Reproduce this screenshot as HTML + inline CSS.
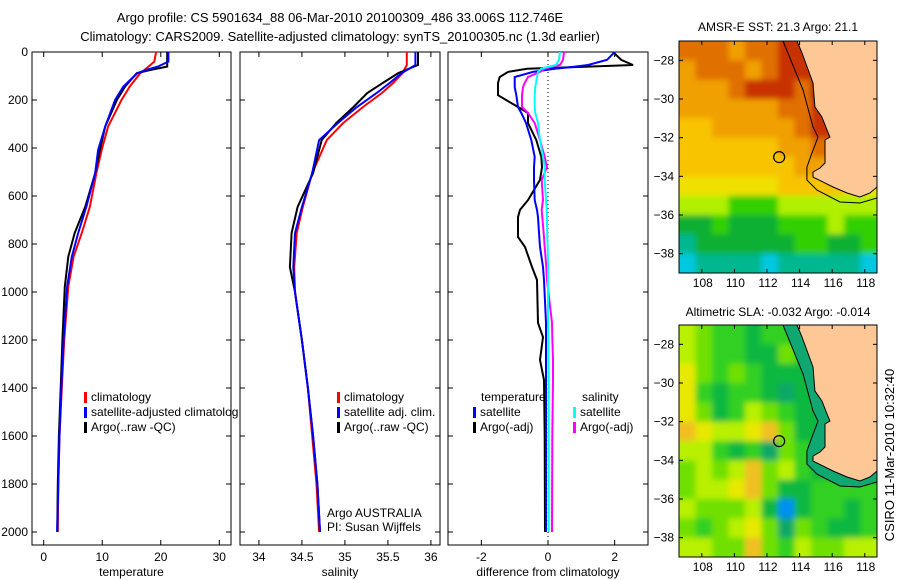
<!DOCTYPE html>
<html><head><meta charset="utf-8">
<style>
html,body{margin:0;padding:0;background:#fff;}
svg{display:block;font-family:"Liberation Sans",sans-serif;}
text{fill:#000;}
</style></head>
<body>
<svg id="fig" width="900" height="580" viewBox="0 0 900 580" xmlns="http://www.w3.org/2000/svg">
<defs>
<clipPath id="clipP1"><rect x="32" y="52" width="199" height="493"/></clipPath>
<clipPath id="clipP2"><rect x="240" y="52" width="200" height="493"/></clipPath>
<clipPath id="clipP3"><rect x="448" y="52" width="200" height="493"/></clipPath>
<clipPath id="clipM1"><rect x="679" y="41" width="198" height="232"/></clipPath>
<clipPath id="clipM2"><rect x="679" y="325" width="198" height="232"/></clipPath>
<clipPath id="clipLeg"><rect x="0" y="0" width="238" height="580"/></clipPath>
<filter id="soft" filterUnits="userSpaceOnUse" x="660" y="20" width="240" height="560"><feGaussianBlur stdDeviation="3"/></filter>
</defs>
<text x="340" y="22" font-size="13" text-anchor="middle">Argo profile: CS 5901634_88 06-Mar-2010 20100309_486 33.006S 112.746E</text>
<text x="340" y="41" font-size="13" text-anchor="middle">Climatology: CARS2009. Satellite-adjusted climatology: synTS_20100305.nc (1.3d earlier)</text>
<text x="778" y="31" font-size="12" text-anchor="middle">AMSR-E SST: 21.3 Argo: 21.1</text>
<text x="778" y="316" font-size="12" text-anchor="middle">Altimetric SLA: -0.032 Argo: -0.014</text>
<text x="0" y="0" font-size="13" text-anchor="middle" transform="translate(894,455) rotate(-90)">CSIRO 11-Mar-2010 10:32:40</text>
<g id="g"></g>
</svg>
<script>
// ---- profile data ----
const tDepth = [0,40,61,75,88,144,200,311,408,504,644,754,853,978,1200,1400,1600,1800,2000];
const tArgo  = [21.1,21.1,21.1,18.2,15.9,13.9,12.5,10.5,9.6,8.8,7.1,5.3,4.2,3.6,3.2,2.9,2.6,2.4,2.3];
const tSat   = [21.3,21.3,19.5,17.5,16.0,13.6,12.2,10.5,9.3,8.8,7.3,5.9,4.8,4.0,3.4,3.0,2.7,2.5,2.3];
const tClim  = [19.2,18.9,17.9,17.2,16.5,14.7,13.3,11.0,9.9,9.0,7.9,6.5,5.1,4.2,3.5,3.1,2.7,2.5,2.4];
const sDepth = [0,54,88,129,171,229,296,367,504,646,754,896,1000,1200,1400,1600,1800,2000];
const sArgo  = [35.85,35.85,35.62,35.44,35.26,35.10,34.90,34.73,34.63,34.45,34.38,34.36,34.42,34.50,34.57,34.63,34.68,34.71];
const sSat   = [35.82,35.82,35.66,35.52,35.37,35.14,34.92,34.70,34.62,34.50,34.42,34.40,34.42,34.50,34.57,34.63,34.68,34.71];
const sClim  = [35.72,35.72,35.67,35.56,35.43,35.21,34.98,34.79,34.62,34.51,34.44,34.41,34.42,34.50,34.57,34.62,34.67,34.70];
const dDepth = [0,33,54,62,70,83,104,129,146,180,229,254,296,367,437,480,533,617,658,688,771,812,896,950,1129,1188,1283,1367,1600,2000];
const dTArgo = [1.95,2.2,2.55,1.0,-0.63,-1.2,-1.45,-1.5,-1.5,-1.5,-0.9,-0.6,-0.6,-0.35,-0.2,-0.18,-0.24,-0.6,-0.84,-0.9,-0.9,-0.69,-0.48,-0.33,-0.3,-0.15,-0.24,-0.12,-0.1,-0.09];
const dTSat  = [2.0,1.77,1.2,0.75,0.2,-0.45,-1.0,-1.0,-1.0,-0.95,-0.9,-0.8,-0.66,-0.5,-0.4,-0.42,-0.42,-0.4,-0.33,-0.3,-0.26,-0.24,-0.15,-0.12,-0.06,-0.06,-0.06,-0.06,-0.06,-0.06];
const dSArgo = [0.48,0.45,0.36,0.1,-0.1,-0.24,-0.6,-0.7,-0.75,-0.78,-0.78,-0.6,-0.4,-0.24,-0.1,-0.03,-0.19,-0.15,-0.19,-0.17,-0.12,-0.1,-0.05,-0.03,0.12,0.13,0.15,0.15,0.13,0.12];
const dSSat  = [0.36,0.33,0.24,0.0,-0.2,-0.3,-0.33,-0.36,-0.38,-0.4,-0.4,-0.38,-0.3,-0.24,-0.15,-0.1,-0.1,-0.06,-0.04,-0.03,-0.02,-0.01,0.0,0.0,0.0,0.01,0.01,0.02,0.02,0.02];
const depthTicks = [0,200,400,600,800,1000,1200,1400,1600,1800,2000];
const tTicks = [0,10,20,30];
const sTicks = [34,34.5,35,35.5,36];
const sTickLabels = ["34","34.5","35","35.5","36"];
const dTicks = [-2,0,2];
// ---- map data ----
const lonTicks = [108,110,112,114,116,118];
const latTicks = [-28,-30,-32,-34,-36,-38];
const sstRows = [
"888788999aaa","788878999aaa","77789998aaaa","7777778899aa","667777789999","666666778888",
"666666677777","555555666655","444333444444","223222333433","122222233223","011110111110"];
const slaRows = [
"654434432222","654433542222","754543332222","743443233222","753465433222","876678533333",
"664342543333","565685643333","566785334444","655563034434","545675254334","665585465566"];
const sstColors = ["#00c8e0","#00b890","#10b030","#30d000","#b0f000","#f0e000","#f8c400","#f0a000","#e07000","#c83000","#a80000"];
const slaColors = ["#0090f0","#00c8d8","#10a868","#10b840","#30d020","#70e000","#b8f000","#e8e800","#f0c020"];
const coastLon = [113.84,114.15,114.82,114.94,115.37,115.68,115.86,115.56,115.56,115.56,115.25,114.82,114.82,115.43,116.05,116.91,117.7,118.32,118.75,118.75];
const coastLat = [-27.0,-27.62,-29.17,-30.41,-30.93,-31.6,-31.97,-32.12,-32.64,-33.31,-33.57,-33.78,-34.04,-34.29,-34.55,-34.86,-35.07,-34.86,-34.55,-27.0];
const contLon = [112.98,114.21,114.82,115.13,114.76,114.45,114.45,115.07,116.48,117.7,118.75];
const contLat = [-27.0,-29.53,-31.45,-31.97,-32.79,-33.52,-34.19,-34.71,-35.33,-35.38,-35.12];
const argoLon = 112.746, argoLat = -33.006;

const NS="http://www.w3.org/2000/svg";
const G=document.getElementById('g');
function mk(tag,attrs,parent){const e=document.createElementNS(NS,tag);for(const k in attrs)e.setAttribute(k,attrs[k]);(parent||G).appendChild(e);return e;}
const yD = d => 52 + d*0.24;

function panel(name,x0,x1,dmin,dmax,ticks,tickLabels,xlabel,showY){
  const fx = v => x0 + (v-dmin)/(dmax-dmin)*(x1-x0);
  const grp=mk('g',{});
  
  
  const fr=mk('rect',{x:x0,y:52,width:x1-x0,height:493,fill:'none',stroke:'#000','stroke-width':1},grp);
  
  
  depthTicks.forEach(d=>{
    const y=yD(d);
    mk('line',{x1:x0,y1:y,x2:x0+5,y2:y,stroke:'#000'},grp);
    mk('line',{x1:x1-5,y1:y,x2:x1,y2:y,stroke:'#000'},grp);
    if(showY){const t=mk('text',{x:x0-4,y:y+4,'font-size':12,'text-anchor':'end'},grp);t.textContent=d;
      
      }
  });
  ticks.forEach((v,i)=>{
    const x=fx(v);
    mk('line',{x1:x,y1:545,x2:x,y2:540,stroke:'#000'},grp);
    mk('line',{x1:x,y1:52,x2:x,y2:57,stroke:'#000'},grp);
    const t=mk('text',{x:x,y:561,'font-size':12,'text-anchor':'middle'},grp);t.textContent=tickLabels[i];
    
    
  });
  const xl=mk('text',{x:(x0+x1)/2,y:576,'font-size':12,'text-anchor':'middle'},grp);xl.textContent=xlabel;
  
  
  return fx;
}
function line(fx,depths,vals,color,clip,name,w){
  const pts=depths.map((d,i)=>fx(vals[i]).toFixed(1)+','+yD(d).toFixed(1)).join(' ');
  const p=mk('polyline',{points:pts,fill:'none',stroke:color,'stroke-width':w||2,'clip-path':'url(#'+clip+')'});
  
  
}
function legend(x,y,color,label,clip){
  const r=mk('rect',{x:x,y:y-9,width:3,height:11,fill:color});
  
  
  const t=mk('text',{x:x+7,y:y,'font-size':12});t.textContent=label;
  if(clip)t.setAttribute('clip-path','url(#'+clip+')');
  
  
}

const fT=panel('temperature',32,231,-2,32,tTicks,tTicks.map(String),'temperature',true);
line(fT,tDepth,tClim,'#ff0000','clipP1','temp-climatology-line');
line(fT,tDepth,tArgo,'#000000','clipP1','temp-argo-line');
line(fT,tDepth,tSat,'#0000ff','clipP1','temp-satellite-line');
legend(84,401,'#ff0000','climatology');
legend(84,416,'#0000ff','satellite-adjusted climatology','clipLeg');
legend(84,431,'#000000','Argo(..raw -QC)');

const fS=panel('salinity',240,440,33.78,36.106,sTicks,sTickLabels,'salinity',false);
line(fS,sDepth,sClim,'#ff0000','clipP2','sal-climatology-line');
line(fS,sDepth,sArgo,'#000000','clipP2','sal-argo-line');
line(fS,sDepth,sSat,'#0000ff','clipP2','sal-satellite-line');
legend(337,401,'#ff0000','climatology');
legend(337,416,'#0000ff','satellite adj. clim.');
legend(337,431,'#000000','Argo(..raw -QC)');
let t1=mk('text',{x:327,y:517,'font-size':12});t1.textContent='Argo AUSTRALIA';


let t2=mk('text',{x:327,y:531,'font-size':12});t2.textContent='PI: Susan Wijffels';



const fD=panel('difference',448,648,-3,3,dTicks,dTicks.map(String),'difference from climatology',false);
const zl=mk('line',{x1:fD(0),y1:52,x2:fD(0),y2:545,stroke:'#000','stroke-dasharray':'1,3'});


line(fD,dDepth,dTArgo,'#000000','clipP3','diff-temp-argo-line');
line(fD,dDepth,dTSat,'#0000ff','clipP3','diff-temp-satellite-line');
line(fD,dDepth,dSArgo,'#ff00ff','clipP3','diff-sal-argo-line');
line(fD,dDepth,dSSat,'#00ffff','clipP3','diff-sal-satellite-line');
let tt=mk('text',{x:481,y:401,'font-size':12});tt.textContent='temperature';


let ts=mk('text',{x:582,y:401,'font-size':12});ts.textContent='salinity';


legend(473,416,'#0000ff','satellite');
legend(473,431,'#000000','Argo(-adj)');
legend(573,416,'#00ffff','satellite');
legend(573,431,'#ff00ff','Argo(-adj)');

function map(name,top,rows,colors,clipId,shelf){
  const L=679,R=877,B=top+232,lonMin=106.6,lonMax=118.75,latMax=-27,latMin=-39;
  const fx=lo=>L+(lo-lonMin)/(lonMax-lonMin)*(R-L);
  const fy=la=>top+(latMax-la)/(latMax-latMin)*(B-top);
  const grp=mk('g',{'clip-path':'url(#'+clipId+')'});
  
  
  const hm=mk('g',{filter:'url(#soft)'},grp);
  const nc=rows[0].length,nr=rows.length,cw=(R-L)/nc,ch=(B-top)/nr;
  rows.forEach((row,r)=>{for(let c=0;c<nc;c++){
    const v=parseInt(row[c],16);
    const x=L+c*cw-(c===0?6:0), y=top+r*ch-(r===0?6:0);
    const w=cw+(c===0?6:0)+(c===nc-1?6:0)+0.5, h=ch+(r===0?6:0)+(r===nr-1?6:0)+0.5;
    const cell=mk('rect',{x:x.toFixed(1),y:y.toFixed(1),width:w.toFixed(1),height:h.toFixed(1),fill:colors[v]},hm);
    
    
  }});
  if(shelf){
    const sp=contLon.map((lo,i)=>fx(lo)+','+fy(contLat[i])).concat([fx(118.75)+','+fy(-27)]).join(' ');
    const s=mk('polygon',{points:sp,fill:'#10a870'},grp);
    
    
  }
  const cp=coastLon.map((lo,i)=>fx(lo).toFixed(1)+','+fy(coastLat[i]).toFixed(1)).join(' ');
  const land=mk('polygon',{points:cp,fill:'#fdc896',stroke:'#000','stroke-width':1},grp);
  
  
  const ctp=contLon.map((lo,i)=>fx(lo).toFixed(1)+','+fy(contLat[i]).toFixed(1)).join(' ');
  const ct=mk('polyline',{points:ctp,fill:'none',stroke:'#000','stroke-width':1},grp);
  
  
  const ci=mk('circle',{cx:fx(argoLon),cy:fy(argoLat),r:5.5,fill:'none',stroke:'#000','stroke-width':1.2});
  
  
  const fr=mk('rect',{x:L,y:top,width:R-L,height:B-top,fill:'none',stroke:'#000'});
  
  
  lonTicks.forEach(lo=>{const x=fx(lo);
    mk('line',{x1:x,y1:top,x2:x,y2:top+4,stroke:'#000'});mk('line',{x1:x,y1:B,x2:x,y2:B-4,stroke:'#000'});
    const t=mk('text',{x:x+1,y:B+14,'font-size':12,'text-anchor':'middle'});t.textContent=lo;
    
    });
  latTicks.forEach(la=>{const y=fy(la);
    mk('line',{x1:L,y1:y,x2:L+4,y2:y,stroke:'#000'});mk('line',{x1:R,y1:y,x2:R-4,y2:y,stroke:'#000'});
    const t=mk('text',{x:L-5,y:y+4,'font-size':12,'text-anchor':'end'});t.textContent=String(la).replace('-','\u2212');
    
    });
}
map('sst',41,sstRows,sstColors,'clipM1',false);
map('sla',325,slaRows,slaColors,'clipM2',true);
</script>
</body></html>
